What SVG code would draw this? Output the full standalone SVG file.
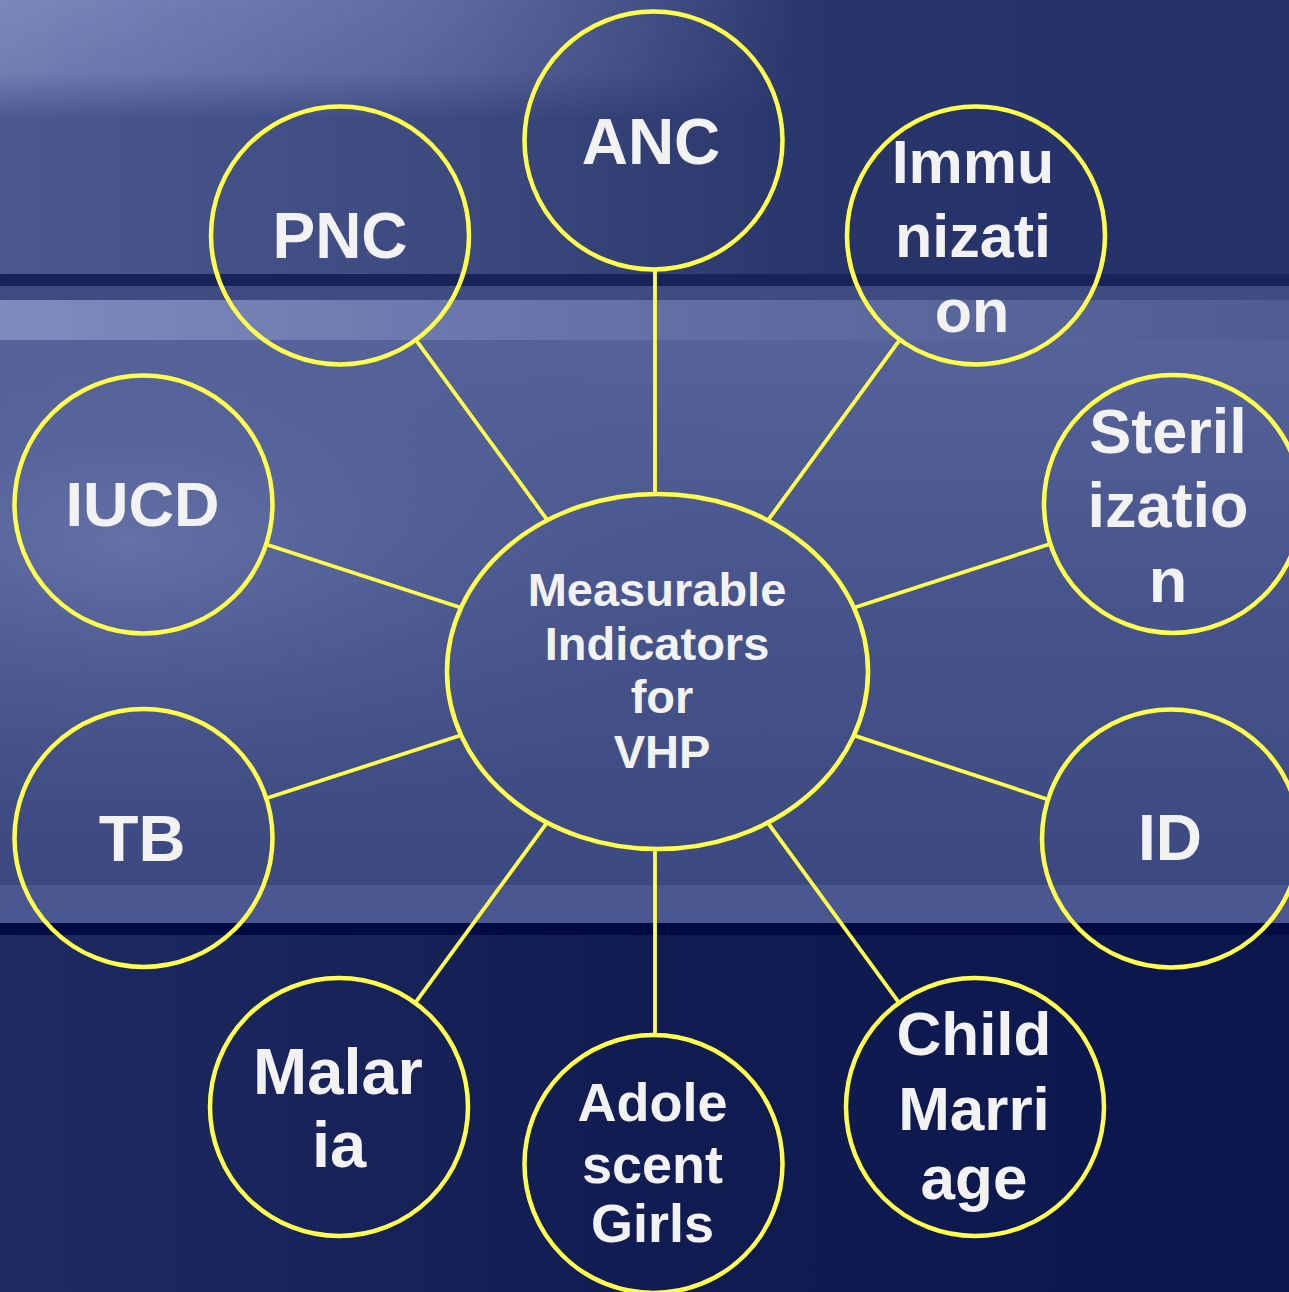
<svg xmlns="http://www.w3.org/2000/svg" width="1289" height="1292" viewBox="0 0 1289 1292">
  <defs>
    <style>
      .node { fill: none; stroke: #ffff4d; stroke-width: 4.5; }
      .conn line { stroke: #ffff4d; stroke-width: 3.8; }
      .lbl { font-family: "Liberation Sans", Arial, sans-serif; font-weight: bold; fill: #f2f2f2; text-anchor: middle; }
    </style>
    <linearGradient id="topBand" x1="0" y1="0" x2="1" y2="0">
      <stop offset="0" stop-color="#4a588f"/>
      <stop offset="0.35" stop-color="#3c4a80"/>
      <stop offset="0.65" stop-color="#28356a"/>
      <stop offset="1" stop-color="#24316a"/>
    </linearGradient>
    <linearGradient id="topLight" x1="0" y1="0" x2="1" y2="0">
      <stop offset="0" stop-color="#7b88bb"/>
      <stop offset="0.5" stop-color="#6a77ad" stop-opacity="0.8"/>
      <stop offset="1" stop-color="#6a77ad" stop-opacity="0"/>
    </linearGradient>
    <linearGradient id="topLightV" x1="0" y1="0" x2="0" y2="1">
      <stop offset="0" stop-color="#fff" stop-opacity="1"/>
      <stop offset="0.6" stop-color="#fff" stop-opacity="0.8"/>
      <stop offset="1" stop-color="#fff" stop-opacity="0"/>
    </linearGradient>
    <mask id="topMask">
      <rect x="0" y="0" width="800" height="120" fill="url(#topLightV)"/>
    </mask>
    <linearGradient id="lightBand" x1="0" y1="0" x2="1" y2="0">
      <stop offset="0" stop-color="#7f8bbd"/>
      <stop offset="0.5" stop-color="#6370a6"/>
      <stop offset="1" stop-color="#4f5c92"/>
    </linearGradient>
    <linearGradient id="midBand" x1="0" y1="0" x2="0" y2="1">
      <stop offset="0" stop-color="#56639a"/>
      <stop offset="0.5" stop-color="#46538a"/>
      <stop offset="1" stop-color="#3b4880"/>
    </linearGradient>
    <radialGradient id="midSide" cx="0.1" cy="0.35" r="0.5">
      <stop offset="0" stop-color="#6e7cb2" stop-opacity="0.7"/>
      <stop offset="1" stop-color="#4a578e" stop-opacity="0"/>
    </radialGradient>
    <linearGradient id="botBand" x1="0" y1="0" x2="1" y2="0">
      <stop offset="0" stop-color="#1e2b62"/>
      <stop offset="0.5" stop-color="#111c52"/>
      <stop offset="1" stop-color="#0b164c"/>
    </linearGradient>
  </defs>

  <g id="background">
    <rect x="0" y="0" width="1289" height="1292" fill="#46538a"/>
    <rect x="0" y="0" width="1289" height="274" fill="url(#topBand)"/>
    <rect x="0" y="0" width="800" height="120" fill="url(#topLight)" mask="url(#topMask)"/>
    <rect x="0" y="274" width="1289" height="12" fill="#18235a"/>
    <rect x="0" y="286" width="1289" height="14" fill="#3f4c82"/>
    <rect x="0" y="300" width="1289" height="40" fill="url(#lightBand)"/>
    <rect x="0" y="340" width="1289" height="580" fill="url(#midBand)"/>
    <rect x="0" y="340" width="1289" height="580" fill="url(#midSide)"/>
    <rect x="0" y="885" width="1289" height="38" fill="#4a5790"/>
    <rect x="0" y="923" width="1289" height="12" fill="#030c42"/>
    <rect x="0" y="935" width="1289" height="357" fill="url(#botBand)"/>
  </g>

  <g id="connectors" class="conn">
    <line x1="655" y1="269" x2="655" y2="494"/>
    <line x1="655" y1="849" x2="655" y2="1035"/>
    <line x1="415.9" y1="339.8" x2="547.4" y2="520.2"/>
    <line x1="899.9" y1="339.7" x2="767.9" y2="520.4"/>
    <line x1="268" y1="545" x2="461.1" y2="607.7"/>
    <line x1="1048.5" y1="544.5" x2="853.9" y2="607.7"/>
    <line x1="268" y1="797.8" x2="461" y2="735.2"/>
    <line x1="1046.5" y1="799" x2="853.9" y2="735.4"/>
    <line x1="415.2" y1="1002.9" x2="547" y2="822.6"/>
    <line x1="899.1" y1="1002.8" x2="767.7" y2="822.6"/>
  </g>

  <g id="center">
    <ellipse class="node" cx="657.5" cy="671.5" rx="210.5" ry="177.5"/>
    <text class="lbl" font-size="47" x="657" y="606">Measurable</text>
    <text class="lbl" font-size="47" x="657" y="660">Indicators</text>
    <text class="lbl" font-size="47" x="662" y="713">for</text>
    <text class="lbl" font-size="47" x="662" y="768">VHP</text>
  </g>

  <g id="anc">
    <circle class="node" cx="653.5" cy="140.5" r="129"/>
    <text class="lbl" font-size="64" x="651" y="164">ANC</text>
  </g>

  <g id="pnc">
    <circle class="node" cx="340" cy="235.5" r="129"/>
    <text class="lbl" font-size="64" x="340" y="258">PNC</text>
  </g>

  <g id="immunization">
    <circle class="node" cx="976" cy="235.5" r="129"/>
    <text class="lbl" font-size="61" x="973" y="183">Immu</text>
    <text class="lbl" font-size="61" x="973" y="257">nizati</text>
    <text class="lbl" font-size="61" x="972" y="332">on</text>
  </g>

  <g id="iucd">
    <circle class="node" cx="143.5" cy="504.5" r="129"/>
    <text class="lbl" font-size="63" x="142.5" y="526">IUCD</text>
  </g>

  <g id="sterilization">
    <circle class="node" cx="1173" cy="504" r="129"/>
    <text class="lbl" font-size="63" x="1168" y="453">Steril</text>
    <text class="lbl" font-size="63" x="1168" y="527">izatio</text>
    <text class="lbl" font-size="63" x="1168" y="602">n</text>
  </g>

  <g id="tb">
    <circle class="node" cx="143.5" cy="838" r="129"/>
    <text class="lbl" font-size="65" x="142" y="861">TB</text>
  </g>

  <g id="id">
    <circle class="node" cx="1171" cy="838.5" r="129"/>
    <text class="lbl" font-size="64" x="1170" y="860">ID</text>
  </g>

  <g id="malaria">
    <circle class="node" cx="339" cy="1107" r="129"/>
    <text class="lbl" font-size="65" x="338" y="1094">Malar</text>
    <text class="lbl" font-size="65" x="339" y="1167">ia</text>
  </g>

  <g id="adolescent">
    <circle class="node" cx="653.5" cy="1164" r="129"/>
    <text class="lbl" font-size="54" x="652.5" y="1121">Adole</text>
    <text class="lbl" font-size="54" x="652.5" y="1183">scent</text>
    <text class="lbl" font-size="54" x="652.5" y="1242">Girls</text>
  </g>

  <g id="child-marriage">
    <circle class="node" cx="975" cy="1107" r="129"/>
    <text class="lbl" font-size="62" x="974" y="1055">Child</text>
    <text class="lbl" font-size="62" x="974" y="1130">Marri</text>
    <text class="lbl" font-size="62" x="974" y="1199">age</text>
  </g>
</svg>
